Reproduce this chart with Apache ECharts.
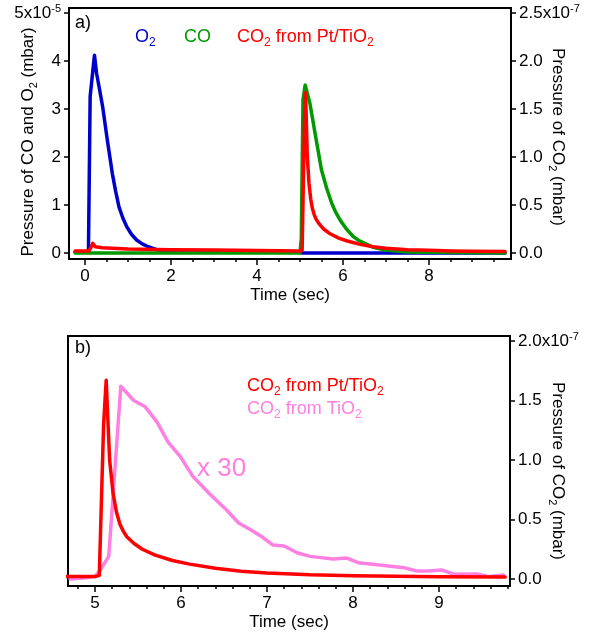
<!DOCTYPE html>
<html>
<head>
<meta charset="utf-8">
<script src="https://cdn.jsdelivr.net/npm/echarts@6/dist/echarts.min.js"></script>
<style>html,body{margin:0;padding:0;background:#fff}#c{width:597px;height:637px}</style>
</head>
<body>
<div id="c"></div>
<script>
// ---- Data ----
// Panel a) O2, left axis, units of 1e-5 mbar
const o2Time  = [-0.23, 0.08, 0.12, 0.22, 0.27, 0.34, 0.41, 0.52, 0.635, 0.71, 0.79, 0.88, 0.97, 1.08, 1.2, 1.33, 1.47, 1.7, 2.5, 4.98, 5.05, 9.77];
const o2Value = [0.02, 0.02, 3.26, 4.12, 3.74, 3.4, 3.05, 2.35, 1.66, 1.3, 0.96, 0.73, 0.55, 0.39, 0.27, 0.19, 0.13, 0.06, 0.03, 0.02, 0.0, 0.0];
// Panel a) CO, left axis, units of 1e-5 mbar
const coTime  = [-0.23, 5.0, 5.03, 5.07, 5.12, 5.23, 5.365, 5.5, 5.62, 5.74, 5.83, 5.93, 6.08, 6.24, 6.37, 6.51, 6.7, 6.98, 7.5, 9.77];
const coValue = [0.0, 0.0, 0.3, 3.2, 3.5, 3.12, 2.42, 1.73, 1.35, 1.03, 0.85, 0.69, 0.5, 0.34, 0.26, 0.2, 0.12, 0.06, 0.02, 0.0];
// CO2 from Pt/TiO2, right axes, units of 1e-7 mbar (shown in both panels)
const co2PtTime  = [-0.23, 0.08, 0.13, 0.18, 0.24, 0.4, 1.0, 2.0, 3.0, 4.0, 5.0, 5.05, 5.1, 5.13, 5.17, 5.21, 5.25, 5.29, 5.33, 5.37, 5.45, 5.55, 5.7, 5.9, 6.1, 6.4, 6.7, 7.0, 7.5, 8.0, 8.5, 9.0, 9.77];
const co2PtValue = [0.02, 0.02, 0.05, 0.1, 0.065, 0.055, 0.042, 0.035, 0.03, 0.025, 0.02, 0.03, 1.3, 1.67, 1.0, 0.72, 0.56, 0.46, 0.4, 0.355, 0.3, 0.25, 0.2, 0.155, 0.125, 0.09, 0.065, 0.05, 0.035, 0.028, 0.022, 0.018, 0.016];
// CO2 from TiO2 (x30), panel b), units of 1e-7 mbar
const co2TiTime  = [4.71, 4.9, 5.0, 5.06, 5.16, 5.3, 5.45, 5.58, 5.72, 5.85, 5.99, 6.14, 6.34, 6.53, 6.67, 6.82, 6.94, 7.07, 7.2, 7.35, 7.5, 7.77, 7.93, 8.06, 8.31, 8.59, 8.74, 8.88, 9.03, 9.17, 9.44, 9.59, 9.75];
const co2TiValue = [0.0, 0.01, 0.02, 0.075, 0.19, 1.62, 1.5, 1.45, 1.32, 1.15, 1.03, 0.86, 0.71, 0.58, 0.47, 0.41, 0.355, 0.285, 0.277, 0.22, 0.19, 0.168, 0.176, 0.137, 0.118, 0.095, 0.067, 0.067, 0.076, 0.04, 0.042, 0.02, 0.034];

// ---- Tick values ----
const topXLabels = [0, 2, 4, 6, 8];
const topXMinor = [0, 0.5, 1, 1.5, 2, 2.5, 3, 3.5, 4, 4.5, 5, 5.5, 6, 6.5, 7, 7.5, 8, 8.5, 9, 9.5];
const topLeftLabels = [0, 1, 2, 3, 4, 5];
const topRightLabels = [0, 0.5, 1.0, 1.5, 2.0, 2.5];
const botXLabels = [5, 6, 7, 8, 9];
const botXMinor = [4.8, 5.0, 5.2, 5.4, 5.6, 5.8, 6.0, 6.2, 6.4, 6.6, 6.8, 7.0, 7.2, 7.4, 7.6, 7.8, 8.0, 8.2, 8.4, 8.6, 8.8, 9.0, 9.2, 9.4, 9.6, 9.8];
const botRightLabels = [0, 0.5, 1.0, 1.5, 2.0];

const zip = (a, b) => a.map((t, i) => [t, b[i]]);
const FONT = 'Liberation Sans, Arial, Helvetica, sans-serif';
const BLUE = '#0000cc', GREEN = '#009a00', RED = '#ff0000', PINK = '#ff80e0';
const LW = 3.5;

const supRich = {
  n: { fontSize: 17, fontFamily: FONT, color: '#000', lineHeight: 20 },
  sup: { fontSize: 11, fontFamily: FONT, color: '#000', verticalAlign: 'top', lineHeight: 20 }
};
function subRich(color, size) {
  return {
    n: { fontSize: size, fontFamily: FONT, fill: color, lineHeight: size + 6 },
    s: { fontSize: Math.round(size * 0.65), fontFamily: FONT, fill: color, verticalAlign: 'bottom', lineHeight: size + 6 }
  };
}

const chart = echarts.init(document.getElementById('c'), null, { renderer: 'canvas' });

function xMain(grid, min, max, labels) {
  return {
    type: 'value', gridIndex: grid, min: min, max: max, position: 'bottom',
    axisLine: { show: true, onZero: false, lineStyle: { color: '#000', width: 2 } },
    axisTick: { show: true, inside: false, length: 6, customValues: labels, lineStyle: { color: '#000', width: 1.5 } },
    axisLabel: { show: true, customValues: labels, margin: 9, fontSize: 17, fontFamily: FONT, color: '#000' },
    splitLine: { show: false }
  };
}
function xMinor(grid, min, max, ticks) {
  return {
    type: 'value', gridIndex: grid, min: min, max: max, position: 'bottom',
    axisLine: { show: false, onZero: false },
    axisTick: { show: true, inside: false, length: 3, customValues: ticks, lineStyle: { color: '#000', width: 1.5 } },
    axisLabel: { show: false },
    splitLine: { show: false }
  };
}
function yAxisDef(grid, pos, min, max, labels, fmt) {
  return {
    type: 'value', gridIndex: grid, position: pos, min: min, max: max,
    axisLine: { show: true, onZero: false, lineStyle: { color: '#000', width: 2 } },
    axisTick: { show: true, inside: false, length: 5, customValues: labels, lineStyle: { color: '#000', width: 1.5 } },
    axisLabel: { show: true, customValues: labels, margin: 8, formatter: fmt, rich: supRich, fontSize: 17, fontFamily: FONT, color: '#000' },
    splitLine: { show: false }
  };
}
function lineSeries(name, xi, yi, t, v, color) {
  return { name: name, type: 'line', xAxisIndex: xi, yAxisIndex: yi, data: zip(t, v), showSymbol: false,
    lineStyle: { color: color, width: LW, join: 'round', cap: 'round' }, itemStyle: { color: color } };
}

const option = {
  animation: false,
  backgroundColor: '#fff',
  grid: [
    { left: 69, top: 8, width: 442, height: 251, show: true, borderColor: '#000', borderWidth: 2, backgroundColor: 'transparent' },
    { left: 68, top: 336, width: 442, height: 250, show: true, borderColor: '#000', borderWidth: 2, backgroundColor: 'transparent' }
  ],
  xAxis: [
    xMain(0, -0.372, 9.907, topXLabels),
    xMinor(0, -0.372, 9.907, topXMinor),
    xMain(1, 4.686, 9.826, botXLabels),
    xMinor(1, 4.686, 9.826, botXMinor)
  ],
  yAxis: [
    yAxisDef(0, 'left', -0.125, 5.104, topLeftLabels, v => v === 5 ? '{n|5x10}{sup|-5}' : '{n|' + v + '}'),
    yAxisDef(0, 'right', -0.0625, 2.552, topRightLabels, v => v === 2.5 ? '{n|2.5x10}{sup|-7}' : '{n|' + v.toFixed(1) + '}'),
    yAxisDef(1, 'right', -0.059, 2.042, botRightLabels, v => v === 2 ? '{n|2.0x10}{sup|-7}' : '{n|' + v.toFixed(1) + '}')
  ],
  series: [
    lineSeries('O2', 0, 0, o2Time, o2Value, BLUE),
    lineSeries('CO', 0, 0, coTime, coValue, GREEN),
    lineSeries('CO2 from Pt/TiO2', 0, 1, co2PtTime, co2PtValue, RED),
    lineSeries('CO2 from TiO2', 2, 2, co2TiTime, co2TiValue, PINK),
    lineSeries('CO2 from Pt/TiO2 (b)', 2, 2, co2PtTime, co2PtValue, RED)
  ],
  graphic: [
    { type: 'text', x: 75, y: 23, style: { text: 'a)', font: '18px ' + FONT, fill: '#000', verticalAlign: 'middle' } },
    { type: 'text', x: 135, y: 37, style: { text: '{n|O}{s|2}', rich: subRich(BLUE, 18), verticalAlign: 'middle' } },
    { type: 'text', x: 184, y: 37, style: { text: '{n|CO}', rich: subRich(GREEN, 18), verticalAlign: 'middle' } },
    { type: 'text', x: 237, y: 37, style: { text: '{n|CO}{s|2}{n| from Pt/TiO}{s|2}', rich: subRich(RED, 18), verticalAlign: 'middle' } },
    { type: 'text', x: 75, y: 348, style: { text: 'b)', font: '18px ' + FONT, fill: '#000', verticalAlign: 'middle' } },
    { type: 'text', x: 247, y: 386, style: { text: '{n|CO}{s|2}{n| from Pt/TiO}{s|2}', rich: subRich(RED, 18), verticalAlign: 'middle' } },
    { type: 'text', x: 247, y: 409, style: { text: '{n|CO}{s|2}{n| from TiO}{s|2}', rich: subRich(PINK, 18), verticalAlign: 'middle' } },
    { type: 'text', x: 197, y: 469, style: { text: 'x 30', font: '26px ' + FONT, fill: PINK, verticalAlign: 'middle' } },
    // axis titles
    { type: 'text', x: 28, y: 142, rotation: Math.PI / 2, style: { text: '{n|Pressure of CO and O}{s|2}{n| (mbar)}', rich: subRich('#000', 17), align: 'center', verticalAlign: 'middle' } },
    { type: 'text', x: 558, y: 137, rotation: -Math.PI / 2, style: { text: '{n|Pressure of CO}{s|2}{n| (mbar)}', rich: subRich('#000', 17), align: 'center', verticalAlign: 'middle' } },
    { type: 'text', x: 558, y: 471, rotation: -Math.PI / 2, style: { text: '{n|Pressure of CO}{s|2}{n| (mbar)}', rich: subRich('#000', 17), align: 'center', verticalAlign: 'middle' } },
    { type: 'text', x: 290, y: 295, style: { text: 'Time (sec)', font: '17px ' + FONT, fill: '#000', align: 'center', verticalAlign: 'middle' } },
    { type: 'text', x: 289, y: 622, style: { text: 'Time (sec)', font: '17px ' + FONT, fill: '#000', align: 'center', verticalAlign: 'middle' } }
  ]
};
chart.setOption(option);
</script>
</body>
</html>
